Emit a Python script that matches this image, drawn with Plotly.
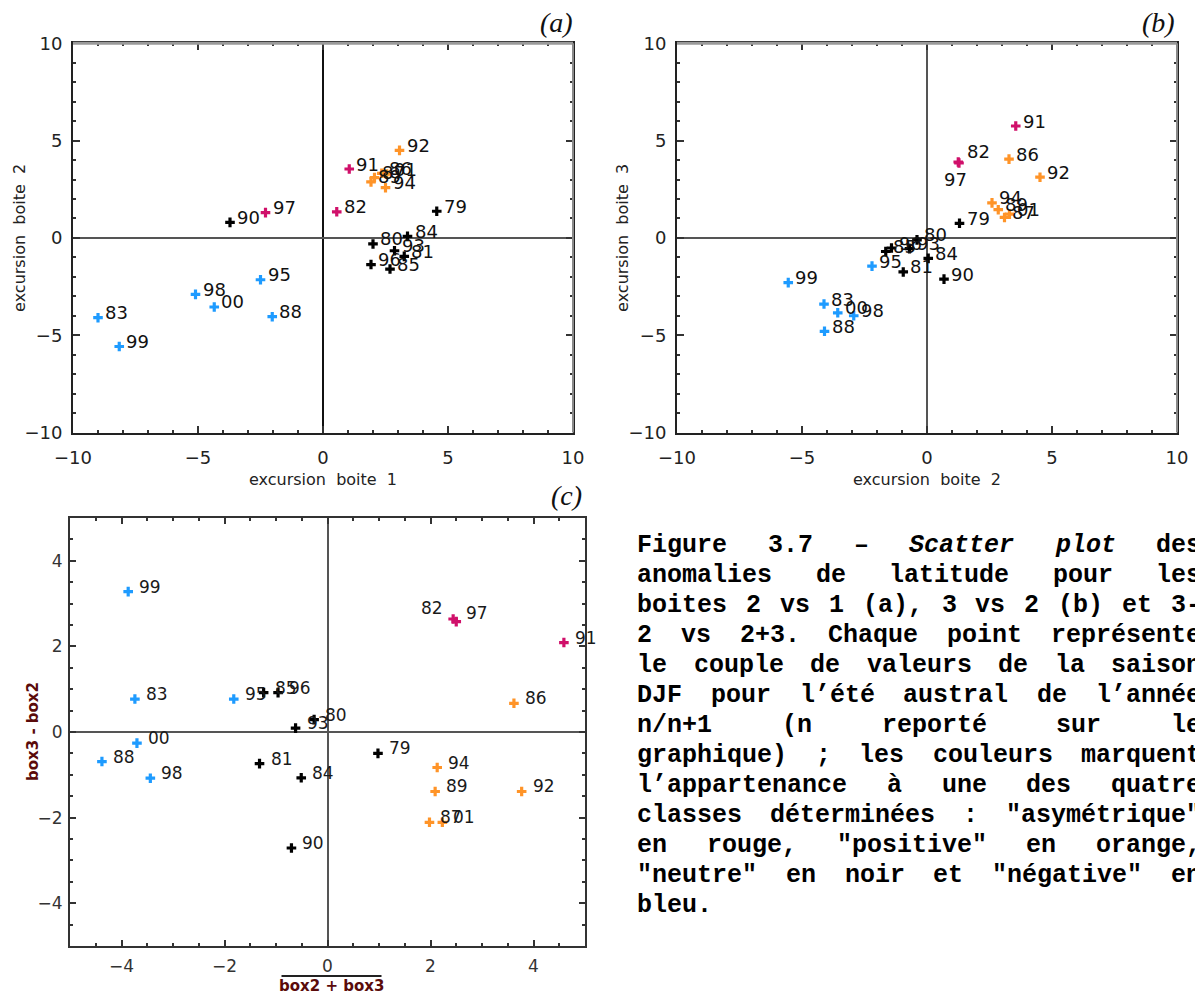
import plotly.graph_objects as go

# ---------------- data ----------------
years = ["79", "80", "81", "82", "83", "84", "85", "86", "87", "88", "89", "90",
         "91", "92", "93", "94", "95", "96", "97", "98", "99", "00", "01"]
classes = ["neutre", "neutre", "neutre", "asym", "neg", "neutre", "neutre", "pos", "pos", "neg", "pos", "neutre",
           "asym", "pos", "neutre", "pos", "neg", "neutre", "asym", "neg", "neg", "neg", "pos"]

# panel (a): excursion boite 1 (x) vs excursion boite 2 (y)
a_x = [4.55, 2.0, 3.25, 0.55, -9.0, 3.38, 2.68, 2.35, 2.06, -2.03, 1.92, -3.72,
       1.05, 3.06, 2.86, 2.5, -2.5, 1.92, -2.3, -5.1, -8.15, -4.35, 2.55]
a_y = [1.37, -0.31, -0.95, 1.34, -4.1, 0.08, -1.6, 3.32, 3.1, -4.05, 2.88, 0.8,
       3.54, 4.5, -0.66, 2.58, -2.15, -1.37, 1.3, -2.9, -5.58, -3.55, 3.28]

# panel (b): excursion boite 2 (x) vs excursion boite 3 (y)
b_x = [1.3, -0.4, -0.95, 1.25, -4.12, 0.05, -1.65, 3.28, 3.1, -4.1, 2.85, 0.68,
       3.55, 4.52, -0.7, 2.6, -2.2, -1.42, 1.28, -2.93, -5.55, -3.57, 3.3]
b_y = [0.75, -0.1, -1.75, 3.9, -3.4, -1.05, -0.7, 4.05, 1.05, -4.8, 1.45, -2.12,
       5.75, 3.12, -0.55, 1.8, -1.45, -0.52, 3.85, -4.0, -2.3, -3.85, 1.22]

# panel (c): (box2 + box3) (x) vs box3 - box2 (y)
c_x = [0.98, -0.26, -1.32, 2.44, -3.74, -0.51, -1.24, 3.62, 1.98, -4.38, 2.09, -0.7,
       4.59, 3.77, -0.62, 2.13, -1.82, -0.96, 2.5, -3.44, -3.87, -3.7, 2.23]
c_y = [-0.5, 0.29, -0.74, 2.64, 0.77, -1.07, 0.92, 0.67, -2.11, -0.69, -1.39, -2.71,
       2.09, -1.39, 0.09, -0.83, 0.77, 0.92, 2.58, -1.08, 3.28, -0.26, -2.11]

class_order = ["asym", "pos", "neutre", "neg"]
class_colors = {"asym": "#d0106a", "pos": "#ff9428", "neutre": "#000000", "neg": "#1e9bff"}

ab_ticks = [-10, -5, 0, 5, 10]
c_ticks = [-4, -2, 0, 2, 4]

caption_lines = [
    "Figure 3.7 – Scatter plot des",
    "anomalies de latitude pour les",
    "boites 2 vs 1 (a), 3 vs 2 (b) et 3-",
    "2 vs 2+3. Chaque point représente",
    "le couple de valeurs de la saison",
    "DJF pour l’été austral de l’année",
    "n/n+1 (n reporté sur le",
    "graphique) ; les couleurs marquent",
    "l’appartenance à une des quatre",
    "classes déterminées : \"asymétrique\"",
    "en rouge, \"positive\" en orange,",
    "\"neutre\" en noir et \"négative\" en",
    "bleu.",
]
italic_words = {"Scatter", "plot"}

# ---------------- layout helpers ----------------
W, H = 1195, 994


def fx(p):
    return p / W


def fy(p):
    return 1 - p / H


A_X = [73.0, 573.0]
B_X = [677.0, 1177.0]
AB_Y = [43.3, 432.5]
C_X = [70.0, 585.0]
C_Y = [518.0, 946.0]

SANS = "DejaVu Sans, Liberation Sans, sans-serif"
fig = go.Figure()

panels = [
    ("x", "y", a_x, a_y, 8),
    ("x2", "y2", b_x, b_y, 8),
    ("x3", "y3", c_x, c_y, 8),
]
for xa, ya, xs, ys, msize in panels:
    for cl in class_order:
        idx = [i for i, c in enumerate(classes) if c == cl]
        fig.add_trace(go.Scatter(
            x=[xs[i] for i in idx], y=[ys[i] for i in idx],
            mode="markers", xaxis=xa, yaxis=ya, showlegend=False,
            marker=dict(symbol="cross", size=msize, color=class_colors[cl], line=dict(width=0)),
            hoverinfo="skip"))

annotations = []

# point labels
default_shift = {"x": (5, 5), "x2": (5, 5), "x3": (9, 5)}
special = {
    ("x2", "97"): dict(xanchor="center", xshift=-4, yshift=-17),
    ("x2", "82"): dict(xanchor="left", xshift=7, yshift=11),
    ("x3", "82"): dict(xanchor="right", xshift=-8, yshift=11),
    ("x3", "97"): dict(xanchor="left", xshift=8, yshift=9),
}
for xa, ya, xs, ys, _ in panels:
    fsize = 18 if xa != "x3" else 17
    fcol = "#111111" if xa != "x3" else "#1a1a1a"
    for i, yr in enumerate(years):
        opts = dict(xanchor="left", xshift=default_shift[xa][0], yshift=default_shift[xa][1])
        opts.update(special.get((xa, yr), {}))
        annotations.append(dict(
            x=xs[i], y=ys[i], xref=xa, yref=ya, text=yr, showarrow=False,
            yanchor="middle", font=dict(family=SANS, size=fsize, color=fcol), **opts))

# axis titles (a), (b)
title_font = dict(family=SANS, size=16, color="#222222")
ab_mid_y = (AB_Y[0] + AB_Y[1]) / 2
for txt, px, py, ang in [
    ("excursion\u00a0\u00a0boite\u00a0\u00a01", (A_X[0] + A_X[1]) / 2, 479, 0),
    ("excursion\u00a0\u00a0boite\u00a0\u00a02", 20, ab_mid_y, -90),
    ("excursion\u00a0\u00a0boite\u00a0\u00a02", (B_X[0] + B_X[1]) / 2, 479, 0),
    ("excursion\u00a0\u00a0boite\u00a0\u00a03", 623, ab_mid_y, -90),
]:
    annotations.append(dict(x=fx(px), y=fy(py), xref="paper", yref="paper", showarrow=False,
                            xanchor="center", yanchor="middle", textangle=ang, text=txt,
                            font=title_font))

# axis titles (c)
c_title_font = dict(family=SANS, size=15, color="#5a0b0b")
c_mid = (C_X[0] + C_X[1]) / 2
annotations += [
    dict(x=fx(c_mid + 4), y=fy(986), xref="paper", yref="paper", showarrow=False,
         xanchor="center", yanchor="middle", text="<b>box2 + box3</b>", font=c_title_font),
    dict(x=fx(33), y=fy((C_Y[0] + C_Y[1]) / 2), xref="paper", yref="paper", showarrow=False,
         xanchor="center", yanchor="middle", textangle=-90,
         text="<b>box3 - box2</b>", font=c_title_font),
]
# panel tags
tag_font = dict(family="Liberation Serif, Times New Roman, serif", size=28, color="#111111")
for tag, px, py in [("(a)", 575, 23), ("(b)", 1177, 23), ("(c)", 584, 496)]:
    annotations.append(dict(x=fx(px), y=fy(py), xref="paper", yref="paper", showarrow=False,
                            xanchor="right", yanchor="middle", text="<i>" + tag + "</i>", font=tag_font))

# caption (justified monospace text)
CW = 15.0
LEFT = 636.0
BOX_W = 564.0
for k, line in enumerate(caption_lines):
    words = line.split(" ")
    n = len(line)
    gaps = len(words) - 1
    extra = (BOX_W - n * CW) / gaps if (gaps > 0 and k < len(caption_lines) - 1) else 0
    pos = 0
    for j, w in enumerate(words):
        xpix = LEFT + pos * CW + j * extra
        txt = "<b>" + (("<i>" + w + "</i>") if w in italic_words else w) + "</b>"
        annotations.append(dict(x=fx(xpix), y=fy(545 + 30 * k), xref="paper", yref="paper",
                                showarrow=False, xanchor="left", yanchor="middle", text=txt,
                                borderpad=0,
                                font=dict(family="Liberation Mono, Courier New, monospace", size=25,
                                          color="#000000")))
        pos += len(w) + 1

# ---------------- axes ----------------
tick_font = dict(family=SANS, size=18, color="#222222")


def ab_axis(domain, zl_color, zl_width):
    return dict(domain=domain, range=[-10, 10], tickvals=ab_ticks,
                ticktext=[str(v).replace("-", "\u2212") for v in ab_ticks],
                ticks="inside", ticklen=7, tickwidth=2, tickcolor="#333333",
                minor=dict(ticks="inside", dtick=1, tick0=0, ticklen=3, tickwidth=2, tickcolor="#333333"),
                showline=True, linecolor="#222222", linewidth=2, mirror="ticks",
                showgrid=False, zeroline=True, zerolinecolor=zl_color, zerolinewidth=zl_width,
                tickfont=tick_font, fixedrange=True, automargin=False)


def c_axis(domain):
    return dict(domain=domain, range=[-5, 5], tickvals=c_ticks,
                ticktext=[str(v).replace("-", "\u2212") for v in c_ticks],
                ticks="inside", ticklen=6, tickwidth=2, tickcolor="#333333",
                minor=dict(ticks="inside", dtick=0.5, tick0=0, ticklen=3, tickwidth=2, tickcolor="#333333"),
                showline=True, linecolor="#333333", linewidth=2, mirror="ticks",
                showgrid=False, zeroline=True, zerolinecolor="#555555", zerolinewidth=2,
                tickfont=dict(family=SANS, size=17, color="#333333"), fixedrange=True,
                automargin=False)


xa = ab_axis([fx(A_X[0]), fx(A_X[1])], "#111111", 2)
ya = ab_axis([fy(AB_Y[1]), fy(AB_Y[0])], "#555555", 1.5)
xb = ab_axis([fx(B_X[0]), fx(B_X[1])], "#555555", 1.5)
yb = ab_axis([fy(AB_Y[1]), fy(AB_Y[0])], "#555555", 1.5)
xc = c_axis([fx(C_X[0]), fx(C_X[1])])
yc = c_axis([fy(C_Y[1]), fy(C_Y[0])])
for ax in (xa, xb):
    ax["ticklabelstandoff"] = 8
xc["ticklabelstandoff"] = 4
for ax in (ya, yb):
    ax["ticklabelstandoff"] = 5
yc["ticklabelstandoff"] = 2
yb["anchor"] = "x2"
xb["anchor"] = "y2"
yc["anchor"] = "x3"
xc["anchor"] = "y3"

shapes = []
# lighter top / right frame edges for panels (a) and (b)
for x0, x1 in (A_X, B_X):
    shapes.append(dict(type="line", xref="paper", yref="paper", x0=fx(x0), x1=fx(x1),
                       y0=fy(AB_Y[0]), y1=fy(AB_Y[0]), line=dict(color="#9a9a9a", width=3)))
    shapes.append(dict(type="line", xref="paper", yref="paper", x0=fx(x1), x1=fx(x1),
                       y0=fy(AB_Y[0]), y1=fy(AB_Y[1]), line=dict(color="#8a8a8a", width=2)))
# overline on the (c) x title
shapes.append(dict(type="line", xref="paper", yref="paper", x0=fx(c_mid + 4 - 50), x1=fx(c_mid + 4 + 50),
                   y0=fy(976), y1=fy(976), line=dict(color="#222222", width=2)))

fig.update_layout(
    width=W, height=H, margin=dict(l=0, r=0, t=0, b=0, autoexpand=False),
    paper_bgcolor="white", plot_bgcolor="white",
    xaxis=xa, yaxis=ya, xaxis2=xb, yaxis2=yb, xaxis3=xc, yaxis3=yc,
    annotations=annotations, shapes=shapes, showlegend=False,
)

fig.write_html("out.html", config={"displayModeBar": False})
